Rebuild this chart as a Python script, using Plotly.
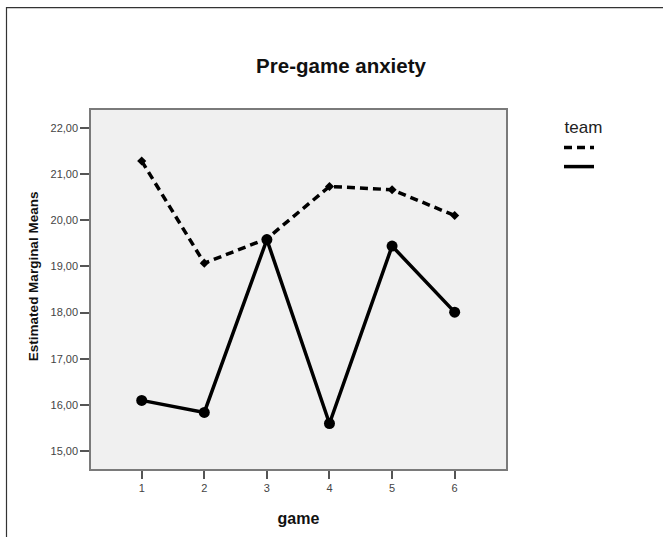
import plotly.graph_objects as go

games = [1, 2, 3, 4, 5, 6]
team_dashed = [21.28, 19.07, 19.60, 20.73, 20.66, 20.10]
team_solid = [16.10, 15.84, 19.58, 15.60, 19.44, 18.01]
y_ticks = [15, 16, 17, 18, 19, 20, 21, 22]

W, H = 663, 537
L, R, T, B = 91, 506, 110, 473

fig = go.Figure()
fig.add_trace(go.Scatter(
    x=games, y=team_dashed, mode="lines+markers", name=" ",
    line=dict(color="#000000", width=3.5, dash="8px,5px"),
    marker=dict(symbol="diamond", size=7, color="#000000"),
    showlegend=False))
fig.add_trace(go.Scatter(
    x=games, y=team_solid, mode="lines+markers", name=" ",
    line=dict(color="#000000", width=3.5),
    marker=dict(symbol="circle", size=11, color="#000000"),
    showlegend=False))
# legend-only entries (lines only)
fig.add_trace(go.Scatter(x=[None], y=[None], mode="lines", name=" ",
                         line=dict(color="#000000", width=3.5, dash="8px,5px")))
fig.add_trace(go.Scatter(x=[None], y=[None], mode="lines", name=" ",
                         line=dict(color="#000000", width=3.5)))

pw, ph = R - L, B - T
fig.add_shape(type="rect", xref="paper", yref="paper",
              x0=(6.5 - L) / pw, x1=(W + 20 - L) / pw,
              y0=1 - (H + 20 - T) / ph, y1=1 + (T - 6.5) / ph,
              line=dict(color="#333333", width=1.2), layer="below")

fig.add_annotation(text="<b>Estimated Marginal Means</b>", textangle=-90,
                   xref="paper", yref="paper",
                   x=(33 - L) / pw, y=1 - (278 - T) / ph,
                   xanchor="center", yanchor="middle", showarrow=False,
                   font=dict(size=13.5, color="#111111"))

fig.update_layout(
    width=W, height=H,
    margin=dict(l=L, r=W - R, t=T, b=H - B, pad=0),
    paper_bgcolor="#ffffff", plot_bgcolor="#f0f0f0",
    separators=",.",
    font=dict(family="Liberation Sans, Arial, sans-serif", color="#222222"),
    title=dict(text="<b>Pre-game anxiety</b>", x=341 / W, xanchor="center",
               y=1 - 66 / H, yanchor="middle",
               font=dict(size=20.5, color="#111111")),
    showlegend=True,
    legend=dict(title=dict(text="team", side="top center",
                           font=dict(size=17, color="#222222")),
                x=(559 - L) / pw, xanchor="left",
                y=1 + (T - 111) / ph, yanchor="top",
                bgcolor="rgba(0,0,0,0)", itemwidth=30, tracegroupgap=0,
                font=dict(size=11)),
    xaxis=dict(range=[0.19, 6.82], tickvals=games, ticktext=[str(g) for g in games],
               showgrid=False, zeroline=False, showline=True, mirror=True,
               linecolor="#7a7a7a", linewidth=1.5,
               ticks="outside", ticklen=8, tickwidth=2, tickcolor="#555555",
               tickfont=dict(size=11, color="#444444"),
               title=dict(text="<b>game</b>", font=dict(size=16, color="#111111"), standoff=20)),
    yaxis=dict(range=[14.615, 22.385], tickvals=y_ticks, tickformat=".2f",
               showgrid=False, zeroline=False, showline=True, mirror=True,
               linecolor="#7a7a7a", linewidth=1.5,
               ticks="outside", ticklen=9, tickwidth=2, tickcolor="#555555",
               tickfont=dict(size=11, color="#444444")),
)

fig.write_html("out.html", config={"displayModeBar": False},
               post_script="document.body.style.margin='0';")
